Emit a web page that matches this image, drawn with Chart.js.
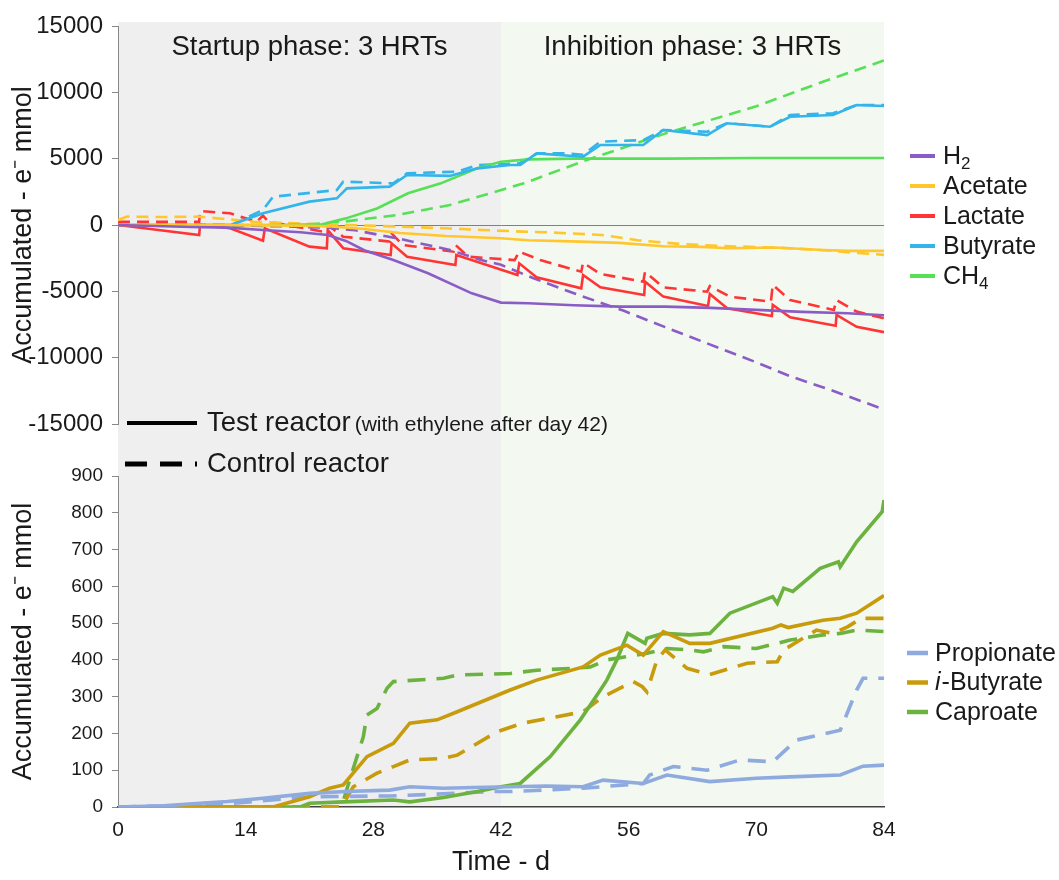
<!DOCTYPE html>
<html><head><meta charset="utf-8">
<script src="https://cdn.jsdelivr.net/npm/chart.js@4.4.1/dist/chart.umd.min.js"></script>
<style>html,body{margin:0;padding:0;background:#fff;}canvas{display:block;background:#fff;}</style>
</head><body>
<canvas id="c" width="1059" height="880"></canvas>
<script>
// ---------- tick labels ----------
const xTickValues = [0, 14, 28, 42, 56, 70, 84];
const topTickValues = [-15000, -10000, -5000, 0, 5000, 10000, 15000];
const botTickValues = [0, 100, 200, 300, 400, 500, 600, 700, 800, 900];

// ---------- legend / annotation text ----------
const topLegendLabels = ['H₂', 'Acetate', 'Lactate', 'Butyrate', 'CH₄'];
const botLegendLabels = ['Propionate', 'i-Butyrate', 'Caproate'];
const phaseLabels = ['Startup phase: 3 HRTs', 'Inhibition phase: 3 HRTs'];
const phaseBounds = [0, 42, 84];
const yTitle = 'Accumulated - e⁻ mmol';
const xTitle = 'Time - d';
const testLabel = 'Test reactor';
const testNote = '(with ethylene after day 42)';
const controlLabel = 'Control reactor';

// ---------- top panel series (days, values) ----------
const h2TestDays = [0, 8, 12, 15.9, 20, 23, 25, 27, 30.2, 34, 38.8, 42, 45, 50, 55, 60, 65, 70, 75, 80, 84];
const h2TestVals = [0, -150, -200, -380, -550, -750, -1200, -1900, -2640, -3640, -5150, -5850, -5900, -6050, -6150, -6150, -6250, -6400, -6550, -6650, -6800];
const h2CtrlDays = [0, 10, 18, 23, 26, 30.6, 36.4, 39.8, 42, 45.5, 50, 55.4, 60, 66.4, 70, 73.7, 78, 84];
const h2CtrlVals = [0, 0, -100, -200, -400, -1000, -1880, -2640, -3000, -4000, -5150, -6450, -7700, -9400, -10350, -11400, -12400, -13900];

const acetTestDays = [0, 10, 20, 23, 27, 30.9, 36, 42, 45, 50.7, 55, 59.8, 64, 67, 72, 77.3, 80, 84];
const acetTestVals = [0, 0, -50, -100, -300, -600, -830, -1000, -1150, -1250, -1350, -1600, -1650, -1750, -1700, -1880, -1950, -1950];
const acetCtrlDays = [0, 1, 5, 8.9, 14.9, 20, 25, 30, 36, 40, 44.5, 47, 53, 57, 62, 67, 72, 77, 81, 84];
const acetCtrlVals = [380, 630, 600, 630, 250, 100, 0, -100, -250, -380, -500, -550, -750, -1150, -1450, -1600, -1700, -1880, -2100, -2250];

const lactTestDays = [0, 8.9, 9, 12.3, 15.9, 16.1, 21, 22.9, 23, 24.7, 29.9, 30, 31.7, 37, 37.1, 43.8, 44, 45.9, 50.8, 51, 52.9, 57.7, 57.8, 59.8, 64.7, 64.9, 66.8, 71.7, 71.8, 73.7, 78.7, 78.8, 81, 84];
const lactTestVals = [0, -750, 0, -250, -1180, -250, -1630, -1750, -380, -1750, -2260, -1380, -2390, -3015, -2260, -3770, -2890, -3940, -4770, -3770, -4700, -5280, -4270, -5400, -6100, -5200, -6280, -6860, -6030, -6960, -7590, -6780, -7670, -8080];
const lactCtrlDays = [0, 8.9, 9, 12.3, 15.2, 15.9, 16.5, 22.5, 23, 24.7, 29.8, 30, 31.2, 36.8, 37, 38.4, 43.5, 44, 46.3, 50.8, 51, 52.9, 57.6, 57.8, 59.8, 64.6, 64.9, 67.1, 71.6, 71.8, 73.7, 78.5, 78.8, 81, 84];
const lactCtrlVals = [250, 250, 1050, 880, 250, 700, 250, -500, 0, -880, -1250, -630, -1500, -2010, -1500, -2390, -2640, -2010, -2640, -3520, -2840, -3690, -4270, -3520, -4700, -5030, -4600, -5400, -5780, -4520, -5650, -6400, -5650, -6530, -7030];

const butTestDays = [0, 12.4, 15.9, 21, 24, 25.1, 29.8, 31.7, 36.4, 39.4, 43, 44.1, 45.9, 51, 52.9, 57.6, 59.8, 64.6, 66.8, 71.5, 73.7, 78.4, 81, 84];
const butTestVals = [0, 0, 880, 1760, 2010, 2760, 2890, 3770, 3700, 4270, 4520, 4520, 5400, 5150, 6030, 6030, 7160, 6780, 7670, 7410, 8160, 8290, 9050, 8970];
const butCtrlDays = [0, 12.4, 15.9, 17, 24, 24.7, 30.2, 31.7, 37.2, 39.4, 44, 46, 49.2, 51, 52.9, 57.6, 59.8, 64.6, 66.8, 71.5, 73.7, 78.4, 81, 84];
const butCtrlVals = [0, 0, 1130, 2130, 2640, 3270, 3140, 3900, 4020, 4520, 4650, 5400, 5400, 5300, 6280, 6400, 7160, 7030, 7670, 7410, 8290, 8420, 9050, 9050];

const ch4TestDays = [0, 17, 22.4, 25, 28.4, 31.8, 35.4, 39.4, 42, 45, 50, 60, 70, 84];
const ch4TestVals = [0, 0, 50, 500, 1250, 2390, 3140, 4270, 4770, 4950, 5000, 5000, 5050, 5050];
const ch4CtrlDays = [0, 20, 24.7, 30.6, 36.4, 40.8, 44.5, 51, 59.8, 70, 77.3, 84];
const ch4CtrlVals = [0, 0, 250, 750, 1510, 2390, 3140, 4800, 6850, 8950, 10800, 12400];

// ---------- bottom panel series (days, values) ----------
const propTestDays = [0, 5, 9, 12, 15.9, 21, 25, 29.8, 32, 35.7, 39, 43, 47, 51, 53.2, 57.6, 60.2, 64.9, 70, 73.7, 79.2, 81.7, 84];
const propTestVals = [0, 3, 10, 15, 24, 37, 42, 46, 55, 51, 53, 55, 57, 55, 73, 64, 87, 69, 78, 82, 87, 111, 114];
const propCtrlDays = [0, 10, 15, 21, 29.8, 35, 40.8, 43, 51, 57.6, 58.3, 60.9, 64.6, 68.2, 71.8, 74.4, 79.2, 81, 81.7, 84];
const propCtrlVals = [0, 5, 15, 28, 30, 35, 42, 42, 51, 64, 87, 110, 100, 128, 123, 182, 209, 318, 350, 350];

const ibutTestDays = [0, 17, 21, 23.2, 24.7, 27.3, 30.2, 32, 35, 37.2, 43, 45.9, 51, 52.9, 55.8, 57.6, 59.8, 62.7, 64.9, 71.8, 72.7, 73.5, 77.3, 79.2, 81, 84];
const ibutTestVals = [0, 0, 28, 51, 60, 137, 173, 228, 237, 259, 318, 345, 381, 413, 440, 413, 477, 445, 445, 486, 495, 488, 508, 513, 527, 575];
const ibutCtrlDays = [0, 24.5, 25.8, 28.4, 30.2, 32, 35.7, 37.2, 41.6, 44.4, 48, 51, 53.2, 56.5, 57.5, 58, 59.1, 60, 62.4, 64.9, 69, 72.3, 73, 74.8, 76.6, 78.4, 80, 81.5, 84];
const ibutCtrlVals = [0, 0, 55, 92, 110, 128, 132, 141, 205, 228, 245, 259, 300, 341, 327, 313, 400, 427, 377, 360, 391, 395, 427, 454, 481, 472, 490, 513, 513];

const caprTestDays = [0, 20, 21, 24.7, 30.2, 32, 35.7, 39.4, 42, 44.1, 47.4, 50.7, 52.9, 53.6, 54.7, 55.9, 57.8, 58, 59.8, 62.7, 64.9, 67.1, 71.8, 72.3, 73, 74, 77, 79, 79.2, 81, 83.8, 84];
const caprTestVals = [0, 0, 10, 14, 19, 14, 26, 42, 55, 64, 137, 237, 318, 345, 400, 472, 445, 459, 472, 468, 472, 527, 572, 554, 595, 586, 649, 667, 653, 721, 803, 835];
const caprCtrlDays = [0, 24.5, 25.4, 26.9, 27.3, 28.4, 29.5, 30.2, 35.7, 37.2, 43, 45.9, 49.9, 51.8, 53.6, 58, 60.2, 62.7, 64.2, 66.4, 70, 73.7, 77.3, 79.2, 81, 84];
const caprCtrlVals = [0, 0, 73, 191, 250, 268, 323, 341, 350, 359, 363, 372, 377, 381, 400, 418, 431, 427, 422, 436, 431, 454, 468, 472, 481, 477];

// ---------- styles ----------
const FONT = '"Liberation Sans", Arial, Helvetica, sans-serif';
const TXT = '#1a1a1a';
const cH2 = '#8a5cc6', cAcet = '#ffc72c', cLact = '#ff3535', cBut = '#33b4ea', cCH4 = '#55e055';
const cProp = '#8eaade', cIbut = '#c89b0c', cCapr = '#6cb23f';
const topDash = [12, 7], botDash = [18, 11];

function pts(d, v) { return d.map((x, i) => ({x: x, y: v[i]})); }
function ds(label, days, vals, color, axis, dashed, group) {
  const top = axis === 'yTop';
  return {
    label: label, data: pts(days, vals), yAxisID: axis, borderColor: color, backgroundColor: color,
    borderWidth: top ? 2.6 : 3.6, borderDash: dashed ? (top ? topDash : botDash) : [],
    pointRadius: 0, tension: 0, fill: false, legendGroup: group, isDashed: dashed
  };
}

const datasets = [
  ds(topLegendLabels[0], h2TestDays, h2TestVals, cH2, 'yTop', false, 'top'),
  ds(topLegendLabels[1], acetTestDays, acetTestVals, cAcet, 'yTop', false, 'top'),
  ds(topLegendLabels[2], lactTestDays, lactTestVals, cLact, 'yTop', false, 'top'),
  ds(topLegendLabels[3], butTestDays, butTestVals, cBut, 'yTop', false, 'top'),
  ds(topLegendLabels[4], ch4TestDays, ch4TestVals, cCH4, 'yTop', false, 'top'),
  ds(topLegendLabels[0] + ' control', h2CtrlDays, h2CtrlVals, cH2, 'yTop', true, null),
  ds(topLegendLabels[1] + ' control', acetCtrlDays, acetCtrlVals, cAcet, 'yTop', true, null),
  ds(topLegendLabels[2] + ' control', lactCtrlDays, lactCtrlVals, cLact, 'yTop', true, null),
  ds(topLegendLabels[3] + ' control', butCtrlDays, butCtrlVals, cBut, 'yTop', true, null),
  ds(topLegendLabels[4] + ' control', ch4CtrlDays, ch4CtrlVals, cCH4, 'yTop', true, null),
  ds(botLegendLabels[0], propTestDays, propTestVals, cProp, 'yBot', false, 'bot'),
  ds(botLegendLabels[1], ibutTestDays, ibutTestVals, cIbut, 'yBot', false, 'bot'),
  ds(botLegendLabels[2], caprTestDays, caprTestVals, cCapr, 'yBot', false, 'bot'),
  ds(botLegendLabels[0] + ' control', propCtrlDays, propCtrlVals, cProp, 'yBot', true, null),
  ds(botLegendLabels[1] + ' control', ibutCtrlDays, ibutCtrlVals, cIbut, 'yBot', true, null),
  ds(botLegendLabels[2] + ' control', caprCtrlDays, caprCtrlVals, cCapr, 'yBot', true, null)
];

// draw text with subscript digits and italic "i-" prefix
function drawRich(ctx, text, x, y, size) {
  let runs = [];
  let i = 0;
  if (text.startsWith('i-')) { runs.push({t: 'i', it: true}); i = 1; }
  let cur = '';
  for (; i < text.length; i++) {
    const code = text.charCodeAt(i);
    if (code >= 0x2080 && code <= 0x2089) {
      if (cur) { runs.push({t: cur}); cur = ''; }
      runs.push({t: String.fromCharCode(code - 0x2080 + 48), sub: true});
    } else cur += text[i];
  }
  if (cur) runs.push({t: cur});
  let cx = x;
  ctx.textAlign = 'left';
  ctx.textBaseline = 'middle';
  for (const r of runs) {
    const sz = r.sub ? Math.round(size * 0.66) : size;
    ctx.font = (r.it ? 'italic ' : '') + sz + 'px ' + FONT;
    ctx.fillText(r.t, cx, r.sub ? y + size * 0.3 : y);
    cx += ctx.measureText(r.t).width + (r.it ? 1 : 0);
  }
}

const decorPlugin = {
  id: 'decor',
  beforeDraw(chart) {
    const ctx = chart.ctx, xs = chart.scales.x, ca = chart.chartArea;
    const top = ca.top - 4, bottom = ca.bottom;
    const x0 = xs.getPixelForValue(phaseBounds[0]), x1 = xs.getPixelForValue(phaseBounds[1]), x2 = xs.getPixelForValue(phaseBounds[2]);
    ctx.save();
    ctx.fillStyle = '#efefef';
    ctx.fillRect(x0, top, x1 - x0, bottom - top);
    ctx.fillStyle = '#f3f8f1';
    ctx.fillRect(x1, top, x2 - x1, bottom - top);
    ctx.restore();
  },
  afterDraw(chart) {
    const ctx = chart.ctx, xs = chart.scales.x, ca = chart.chartArea;
    ctx.save();
    ctx.fillStyle = TXT;
    // phase labels
    ctx.font = '27.5px ' + FONT;
    ctx.textAlign = 'center';
    ctx.textBaseline = 'middle';
    for (let k = 0; k < phaseLabels.length; k++) {
      const cxp = (xs.getPixelForValue(phaseBounds[k]) + xs.getPixelForValue(phaseBounds[k + 1])) / 2;
      ctx.fillText(phaseLabels[k], cxp, ca.top + 21);
    }
    // line style legend
    const yT = chart.scales.yTop.bottom;
    const lx0 = ca.left + 9, lx1 = ca.left + 79, tx = ca.left + 89;
    ctx.strokeStyle = '#000';
    ctx.lineWidth = 4;
    ctx.setLineDash([]);
    ctx.beginPath(); ctx.moveTo(lx0, yT - 1); ctx.lineTo(lx1, yT - 1); ctx.stroke();
    ctx.textAlign = 'left';
    ctx.font = '27.5px ' + FONT;
    ctx.fillText(testLabel, tx, yT - 1);
    const w = ctx.measureText(testLabel).width;
    ctx.font = '21px ' + FONT;
    ctx.fillText(testNote, tx + w + 4, yT + 1);
    const yC = yT + 40;
    ctx.lineWidth = 5;
    ctx.setLineDash([22, 13]);
    ctx.beginPath(); ctx.moveTo(lx0 - 2, yC); ctx.lineTo(lx1, yC); ctx.stroke();
    ctx.setLineDash([]);
    ctx.font = '27.5px ' + FONT;
    ctx.fillText(controlLabel, tx, yC);
    // series legends
    const topItems = chart.data.datasets.filter(d => d.legendGroup === 'top');
    const botItems = chart.data.datasets.filter(d => d.legendGroup === 'bot');
    topItems.forEach((d, k) => {
      const y = 156 + k * 30;
      ctx.strokeStyle = d.borderColor; ctx.lineWidth = 4;
      ctx.beginPath(); ctx.moveTo(ca.right + 26, y); ctx.lineTo(ca.right + 51, y); ctx.stroke();
      ctx.fillStyle = TXT;
      drawRich(ctx, d.label, ca.right + 59, y + 1, 25);
    });
    botItems.forEach((d, k) => {
      const y = 653 + k * 29.5;
      ctx.strokeStyle = d.borderColor; ctx.lineWidth = 4.5;
      ctx.beginPath(); ctx.moveTo(ca.right + 23, y); ctx.lineTo(ca.right + 44, y); ctx.stroke();
      ctx.fillStyle = TXT;
      drawRich(ctx, d.label, ca.right + 51, y + 1, 25);
    });
    ctx.restore();
  }
};

function setTicks(values) { return function (scale) { scale.ticks = values.map(v => ({value: v})); }; }
const yWidth = function (s) { s.width = 118; };
const plainLabel = function (v) { return String(v); };

new Chart(document.getElementById('c'), {
  type: 'line',
  data: {datasets: datasets},
  options: {
    responsive: false, animation: false, devicePixelRatio: 1,
    layout: {padding: {top: 26, right: 175, bottom: 0, left: 0}},
    plugins: {legend: {display: false}, tooltip: {enabled: false}},
    scales: {
      x: {
        type: 'linear', position: 'bottom', min: 0, max: 84,
        afterBuildTicks: setTicks(xTickValues),
        afterFit: function (s) { s.height = 73; },
        ticks: {font: {family: FONT, size: 21}, color: TXT, padding: 11, maxRotation: 0, autoSkip: false, callback: plainLabel},
        grid: {drawOnChartArea: false, drawTicks: false},
        border: {display: true, color: '#444', width: 1.5},
        title: {display: true, text: xTitle, font: {family: FONT, size: 27}, color: TXT, padding: {top: 0, bottom: 1}}
      },
      yBot: {
        type: 'linear', position: 'left', stack: 'y', stackWeight: 331, min: 0, max: 900,
        afterBuildTicks: setTicks(botTickValues), afterFit: yWidth,
        ticks: {font: {family: FONT, size: 19}, color: TXT, padding: 9, autoSkip: false, callback: plainLabel},
        grid: {drawOnChartArea: false, tickColor: '#888', tickLength: 6, lineWidth: 1},
        border: {display: true, color: '#888', width: 1},
        title: {display: true, text: yTitle, font: {family: FONT, size: 27}, color: TXT, padding: {top: 7, bottom: 0}}
      },
      yGap: {
        type: 'linear', position: 'left', stack: 'y', stackWeight: 52, min: 0, max: 1,
        afterFit: yWidth,
        ticks: {display: false}, grid: {display: false}, border: {display: false}, title: {display: false}
      },
      yTop: {
        type: 'linear', position: 'left', stack: 'y', stackWeight: 398, min: -15000, max: 15000,
        afterBuildTicks: setTicks(topTickValues), afterFit: yWidth,
        ticks: {font: {family: FONT, size: 24}, color: TXT, padding: 9, autoSkip: false, callback: plainLabel},
        grid: {drawOnChartArea: true, color: c => (c.tick && c.tick.value === 0) ? '#808080' : 'rgba(0,0,0,0)', tickColor: '#888', tickLength: 6, lineWidth: 1},
        border: {display: true, color: '#888', width: 1},
        title: {display: true, text: yTitle, font: {family: FONT, size: 27}, color: TXT, padding: {top: 7, bottom: 0}}
      }
    }
  },
  plugins: [decorPlugin]
});
</script>
</body></html>
